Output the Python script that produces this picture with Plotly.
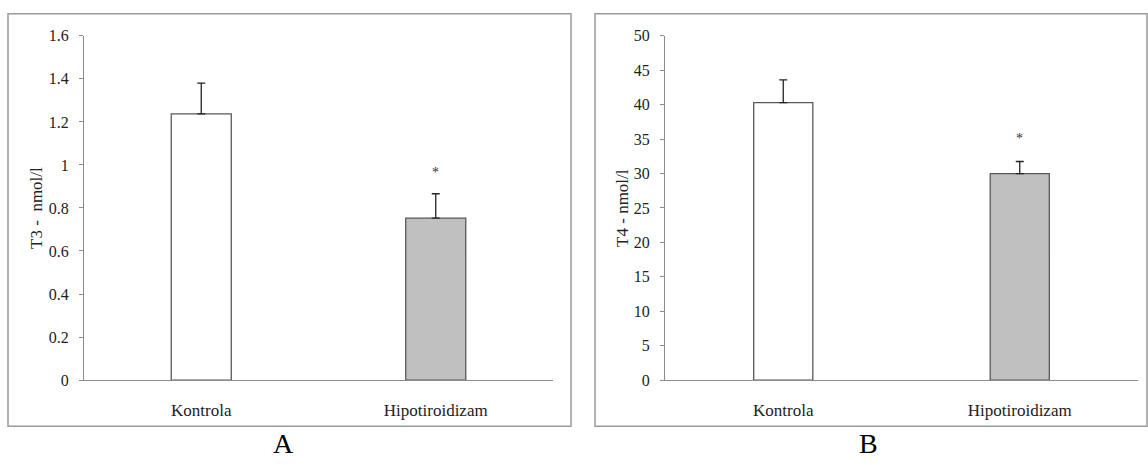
import plotly.graph_objects as go

# Group labels shared by both panels
categories = ["Kontrola", "Hipotiroidizam"]

# Panel A: T3 (nmol/l), mean and upper error
t3_mean = [1.237, 0.753]
t3_err = [0.143, 0.113]

# Panel B: T4 (nmol/l), mean and upper error
t4_mean = [40.3, 30.0]
t4_err = [3.3, 1.75]

# Significance markers (only the hypothyroid group)
t3_star_y = 0.965
t4_star_y = 35.1

bar_colors = ["#ffffff", "#c0c0c0"]
serif = "Liberation Serif"
grey = "#8c8c8c"

fig = go.Figure()

fig.add_trace(go.Bar(
    x=categories, y=t3_mean, xaxis="x", yaxis="y",
    marker=dict(color=bar_colors, line=dict(color="#595959", width=1.3)),
    error_y=dict(type="data", symmetric=False, array=t3_err,
                 arrayminus=[0, 0], color="#222222", thickness=1.3, width=4),
    width=0.256, showlegend=False,
))
fig.add_trace(go.Bar(
    x=categories, y=t4_mean, xaxis="x2", yaxis="y2",
    marker=dict(color=bar_colors, line=dict(color="#595959", width=1.3)),
    error_y=dict(type="data", symmetric=False, array=t4_err,
                 arrayminus=[0, 0], color="#222222", thickness=1.3, width=4),
    width=0.25, showlegend=False,
))

xcommon = dict(showline=True, linecolor=grey, linewidth=1.3, showgrid=False,
               zeroline=False, ticks="", ticklabelstandoff=14,
               tickfont=dict(family=serif, size=17, color="#222222"))
ycommon = dict(showline=True, linecolor=grey, linewidth=1.3, showgrid=False,
               zeroline=False, ticks="outside", ticklen=4, tickcolor=grey,
               tickwidth=1.3, ticklabelstandoff=7,
               tickfont=dict(family=serif, size=16, color="#222222"))

ydom = [0.1695, 0.9378]
fig.update_layout(
    width=1148, height=465,
    margin=dict(l=0, r=0, t=0, b=0),
    paper_bgcolor="white", plot_bgcolor="white",
    font=dict(family=serif),
    xaxis=dict(domain=[84 / 1148, 553 / 1148], anchor="y", **xcommon),
    yaxis=dict(domain=ydom, anchor="x", range=[0, 1.6], dtick=0.2, **ycommon),
    xaxis2=dict(domain=[665 / 1148, 1138 / 1148], anchor="y2", **xcommon),
    yaxis2=dict(domain=ydom, anchor="x2", range=[0, 50], dtick=5, **ycommon),
)

# Panel frames
frame = dict(type="rect", xref="paper", yref="paper",
             line=dict(color="#9a9a9a", width=1.5), fillcolor="rgba(0,0,0,0)")
fig.add_shape(x0=8 / 1148, x1=571 / 1148, y0=1 - 434 / 465, y1=1 - 6 / 465, **frame)
fig.add_shape(x0=595 / 1148, x1=1147 / 1148, y0=1 - 434 / 465, y1=1 - 6 / 465, **frame)

# Axis titles
for xpx, txt in [(37, "T3 -  nmol/l"), (623, "T4 - nmol/l")]:
    fig.add_annotation(x=xpx / 1148, y=1 - 207.5 / 465, xref="paper", yref="paper",
                       xanchor="center", yanchor="middle",
                       text=txt, textangle=-90, showarrow=False,
                       font=dict(family=serif, size=17, color="#222222"))

# Significance asterisks
fig.add_annotation(x=categories[1], y=t3_star_y, xref="x", yref="y", text="*",
                   xanchor="center", yanchor="middle",
                   showarrow=False, font=dict(family=serif, size=14, color="#333333"))
fig.add_annotation(x=categories[1], y=t4_star_y, xref="x2", yref="y2", text="*",
                   xanchor="center", yanchor="middle",
                   showarrow=False, font=dict(family=serif, size=14, color="#333333"))

# Panel letters
for xpx, txt in [(283, "A"), (868, "B")]:
    fig.add_annotation(x=xpx / 1148, y=1 - 452 / 465, xref="paper", yref="paper",
                       xanchor="center", yanchor="middle",
                       text=txt, showarrow=False,
                       font=dict(family=serif, size=28, color="#000000"))

fig.write_html("out.html")
